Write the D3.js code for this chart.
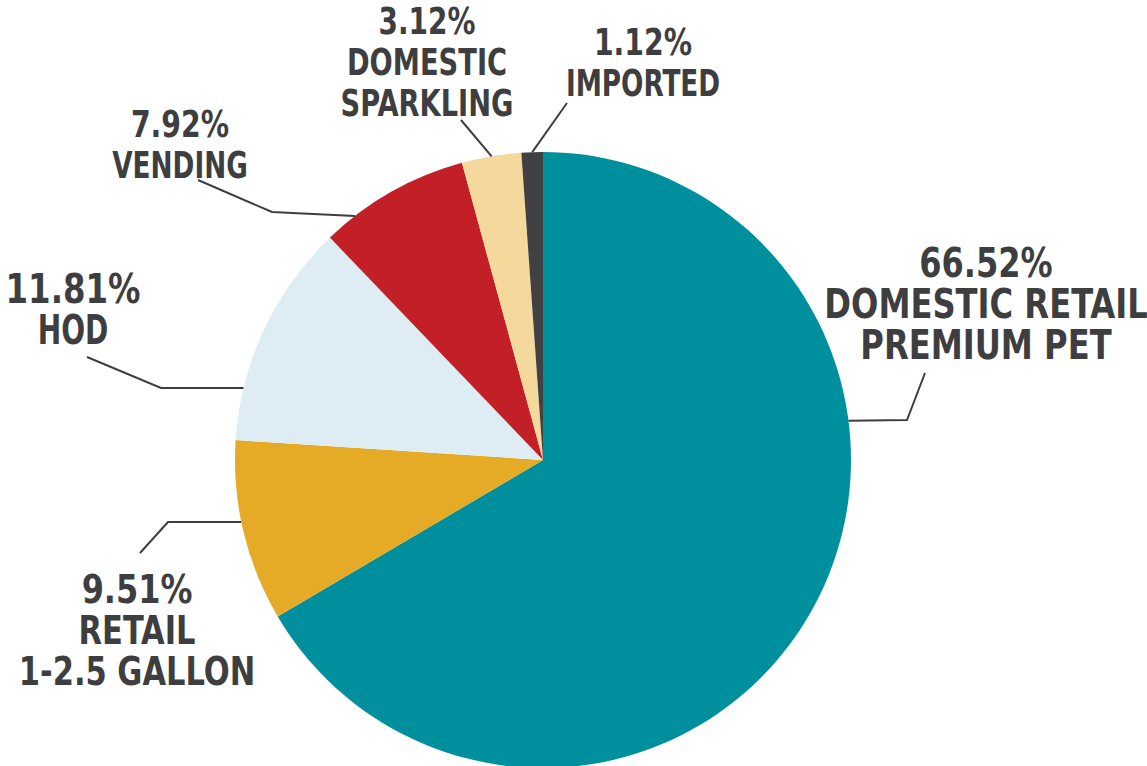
<!DOCTYPE html>
<html>
<head>
<meta charset="utf-8">
<script src="https://cdn.jsdelivr.net/npm/d3@7"></script>
<style>
  html, body { margin: 0; padding: 0; background: #fff; }
  svg { display: block; }
  .lbl { font-family: "DejaVu Sans Condensed", "Liberation Sans Narrow", sans-serif; font-weight: bold; fill: #3e3e40; }
</style>
</head>
<body>
<div id="chart"></div>
<script>
// segments, clockwise from 12 o'clock
const categories = ["DOMESTIC RETAIL PREMIUM PET", "RETAIL 1-2.5 GALLON", "HOD", "VENDING", "DOMESTIC SPARKLING", "IMPORTED"];
const shares = [66.52, 9.51, 11.81, 7.92, 3.12, 1.12];
const labelLines = [
  ["DOMESTIC RETAIL", "PREMIUM PET"],
  ["RETAIL", "1-2.5 GALLON"],
  ["HOD"],
  ["VENDING"],
  ["DOMESTIC", "SPARKLING"],
  ["IMPORTED"]
];
const colors = ["#00909d", "#e6ab26", "#ddedf3", "#c21f26", "#f5d89b", "#414042"];

// label layout: text centre / first baseline, font size, horizontal squeeze (pct line, name lines),
// leader anchor angle on rim (deg), elbow, end
const labelLayout = [
  { x: 986, y: 277, size: 40, sxP: 0.89, sxN: 0.895, angle: 82.7, elbow: [907, 420], end: [925, 373] },
  { x: 137, y: 603, size: 39, sxP: 0.91, sxN: 0.87, angle: 258.4, elbow: [168, 522], end: [140, 553] },
  { x: 73, y: 303, size: 40, sxP: 0.90, sxN: 0.78, angle: 283.5, elbow: [161, 388], end: [87, 357] },
  { x: 180, y: 137, size: 37, sxP: 0.85, sxN: 0.79, angle: 322.4, elbow: [272, 212], end: [198, 180] },
  { x: 427, y: 34, size: 37, sxP: 0.84, sxN: 0.82, angle: 350.4, elbow: null, end: [461, 120] },
  { x: 643, y: 55, size: 37, sxP: 0.85, sxN: 0.79, angle: 358, elbow: null, end: [567, 103] }
];

const width = 1147, height = 766;
const cx = 543, cy = 460, radius = 308;
const lineH = 41;

const svg = d3.select("#chart").append("svg")
  .attr("width", width).attr("height", height);

const data = categories.map((c, i) => ({ name: c, value: shares[i], i }));

const pie = d3.pie().sort(null).value(d => d.value);
const arc = d3.arc().innerRadius(0).outerRadius(radius);

const g = svg.append("g").attr("transform", `translate(${cx},${cy})`);

g.selectAll("path.slice")
  .data(pie(data)).enter().append("path")
  .attr("class", "slice")
  .attr("d", arc)
  .attr("fill", d => colors[d.data.i]);

// leader lines
const rim = a => {
  const r = a * Math.PI / 180;
  return [cx + radius * Math.sin(r), cy - radius * Math.cos(r)];
};
const line = d3.line();
svg.selectAll("path.leader")
  .data(labelLayout).enter().append("path")
  .attr("class", "leader")
  .attr("d", d => line([rim(d.angle)].concat(d.elbow ? [d.elbow] : [], [d.end])))
  .attr("fill", "none")
  .attr("stroke", "#3e3e40")
  .attr("stroke-width", 2);

// labels: one text per line
const rows = [];
data.forEach(d => {
  const L = labelLayout[d.i];
  [d.value.toFixed(2) + "%"].concat(labelLines[d.i]).forEach((t, k) => {
    rows.push({ t, x: L.x, y: L.y + k * lineH, size: L.size, sx: k === 0 ? L.sxP : L.sxN });
  });
});

svg.selectAll("text.lbl")
  .data(rows).enter().append("text")
  .attr("class", "lbl")
  .attr("text-anchor", "middle")
  .attr("font-size", d => d.size)
  .attr("transform", d => `translate(${d.x},${d.y}) scale(${d.sx},1)`)
  .text(d => d.t);
</script>
</body>
</html>
